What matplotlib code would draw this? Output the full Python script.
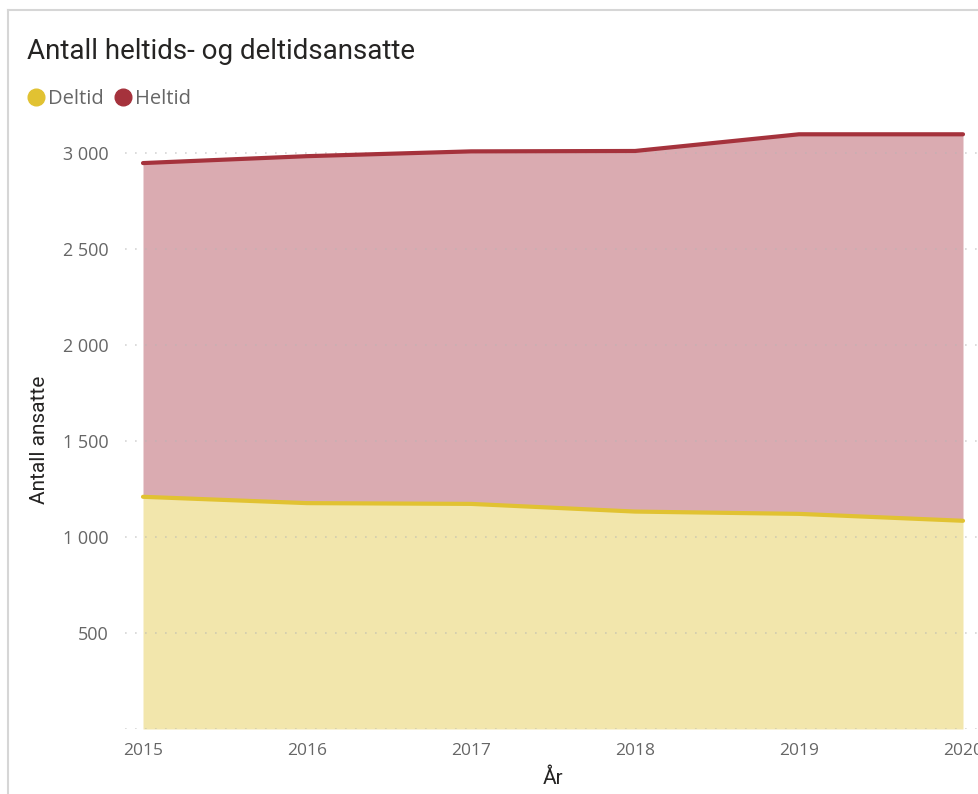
import matplotlib
matplotlib.use("Agg")
import matplotlib.pyplot as plt
from matplotlib.lines import Line2D
from matplotlib.ticker import FuncFormatter

# Data
years = [2015, 2016, 2017, 2018, 2019, 2020]
deltid = [1210, 1177, 1173, 1133, 1121, 1085]
totalt = [2949, 2985, 3010, 3012, 3099, 3099]
heltid = [t - d for t, d in zip(totalt, deltid)]

y_ticks = [500, 1000, 1500, 2000, 2500, 3000]

DELTID_LINE = "#E1C232"
DELTID_FILL = "#F2E6AC"
HELTID_LINE = "#A5323C"
HELTID_FILL = "#DAABB1"
TICK_COLOR = "#666666"
TEXT_COLOR = "#252423"

W, H = 979, 794
fig = plt.figure(figsize=(W / 100, H / 100), dpi=100)
ax = fig.add_axes([125 / W, 1 - 729 / H, 1 - 125 / W, (729 - 124.5) / H])

# Stacked areas: deltid at the bottom, heltid on top
ax.fill_between(years, 0, deltid, color=DELTID_FILL, linewidth=0, zorder=1)
ax.fill_between(years, deltid, totalt, color=HELTID_FILL, linewidth=0, zorder=1)
ax.plot(years, deltid, color=DELTID_LINE, linewidth=3, solid_capstyle="round", zorder=3)
ax.plot(years, totalt, color=HELTID_LINE, linewidth=3, solid_capstyle="round", zorder=3)

ax.set_xlim(2015 - 18 / 164, 2020 + 16 / 164)
ax.set_ylim(0, 3150)

for sp in ax.spines.values():
    sp.set_visible(False)

ax.set_yticks([0] + y_ticks)
ax.yaxis.set_major_formatter(FuncFormatter(lambda v, p: "" if v == 0 else f"{int(v):,}".replace(",", " ")))
ax.set_xticks(years)
ax.set_xticklabels([str(y) for y in years])
ax.tick_params(axis="both", length=0, colors=TICK_COLOR)
ax.tick_params(axis="y", pad=12, labelsize=13)
ax.tick_params(axis="x", pad=10, labelsize=12.5)
for lbl in ax.get_xticklabels() + ax.get_yticklabels():
    lbl.set_family("Open Sans")

# Dotted gridlines, faintly visible over the filled areas too
ax.grid(axis="y", color="#B4B4B4", linestyle=(0, (1, 5)), linewidth=1.2, alpha=0.55, zorder=2)

ax.set_xlabel("År", fontsize=15, color=TEXT_COLOR, family="Roboto")
ax.xaxis.set_label_coords((553 - 125) / (W - 125), (729 - 778) / (729 - 124.5))
ax.set_ylabel("Antall ansatte", fontsize=15, color=TEXT_COLOR, family="Roboto")
ax.yaxis.set_label_coords((40 - 125) / (W - 125), (729 - 440) / (729 - 124.5))
ax.xaxis.label.set_va("center")
ax.yaxis.label.set_va("center")

# Title and legend
fig.text(27 / W, 1 - 59 / H, "Antall heltids- og deltidsansatte", fontsize=20,
         color=TEXT_COLOR, family="Roboto", va="baseline", ha="left")
fig.add_artist(Line2D([36 / W], [1 - 96.7 / H], marker="o", markersize=12,
                      color=DELTID_LINE, linestyle="none"))
fig.text(48 / W, 1 - 104 / H, "Deltid", fontsize=14.5, color=TICK_COLOR,
         family="Open Sans", va="baseline", ha="left")
fig.add_artist(Line2D([123.5 / W], [1 - 96.7 / H], marker="o", markersize=12,
                      color=HELTID_LINE, linestyle="none"))
fig.text(135 / W, 1 - 104 / H, "Heltid", fontsize=14.5, color=TICK_COLOR,
         family="Open Sans", va="baseline", ha="left")

# Card border
fig.add_artist(Line2D([8 / W, 8 / W], [0, 1 - 10 / H], color="#D6D6D6", linewidth=1.5))
fig.add_artist(Line2D([8 / W, 1], [1 - 10 / H, 1 - 10 / H], color="#D6D6D6", linewidth=1.5))

fig.savefig("out.png", dpi=100)
